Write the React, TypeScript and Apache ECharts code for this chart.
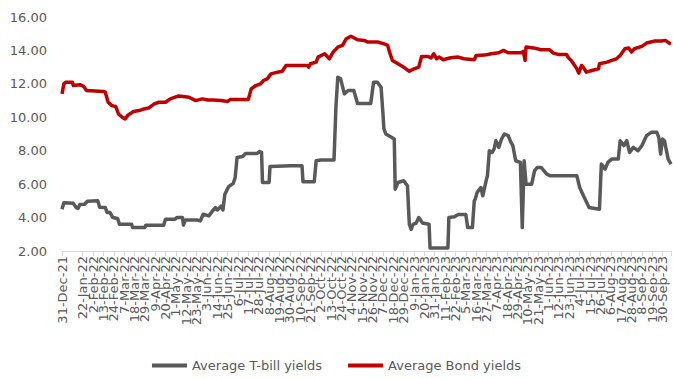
import React, { useEffect, useRef } from "react";
import * as echarts from "echarts";

// Day offsets are counted from 31-Dec-21; each pair is [day, yield %].
const START_UTC = Date.UTC(2021, 11, 31);
const MONTHS = ["Jan", "Feb", "Mar", "Apr", "May", "Jun", "Jul", "Aug", "Sep", "Oct", "Nov", "Dec"];

const tbillYields: [number, number][] = [
  [0, 4.5], [2, 4.88], [12, 4.85], [15, 4.6], [17, 4.55], [19, 4.78], [24, 4.8], [27, 4.98],
  [38, 5.0], [40, 4.62], [46, 4.6], [48, 4.3], [51, 4.3], [54, 4.0], [59, 3.95], [61, 3.6],
  [74, 3.6], [75, 3.4], [88, 3.4], [89, 3.54], [108, 3.54], [110, 3.9], [120, 3.9], [122, 4.0],
  [128, 4.0], [129, 3.55], [131, 3.85], [144, 3.85], [147, 3.8], [150, 4.2], [156, 4.1],
  [160, 4.4], [163, 4.6], [165, 4.45], [169, 4.68], [171, 4.45], [173, 5.4], [177, 5.85],
  [182, 6.05], [184, 6.4], [186, 7.6], [192, 7.65], [195, 7.83], [207, 7.83], [210, 7.95],
  [212, 7.9], [213, 6.1], [220, 6.1], [221, 7.05], [243, 7.1], [255, 7.1], [256, 6.15],
  [268, 6.15], [270, 7.4], [275, 7.45], [289, 7.45], [291, 10.6], [293, 12.4], [296, 12.3],
  [300, 11.4], [304, 11.6], [310, 11.6], [314, 10.83], [328, 10.83], [331, 12.1], [335, 12.1],
  [339, 11.8], [341, 10.2], [342, 9.3], [344, 9.0], [350, 8.8], [353, 8.7], [354, 5.7],
  [357, 6.1], [363, 6.2], [367, 5.9], [369, 3.6], [371, 3.3], [373, 3.6], [376, 3.65],
  [379, 4.0], [383, 3.68], [390, 3.6], [391, 2.18], [410, 2.18], [411, 4.0], [417, 4.05],
  [421, 4.18], [429, 4.18], [431, 3.4], [436, 3.4], [438, 5.0], [439, 5.1], [441, 5.5],
  [445, 5.8], [447, 5.3], [451, 6.3], [452, 6.5], [454, 8.0], [457, 7.9], [459, 8.1],
  [461, 8.6], [464, 8.2], [467, 8.7], [470, 9.0], [474, 8.9], [477, 8.5], [479, 8.3],
  [482, 7.4], [487, 7.3], [489, 3.4], [491, 7.4], [493, 6.0], [499, 6.0], [502, 6.8],
  [505, 7.0], [509, 7.0], [515, 6.6], [519, 6.5], [547, 6.5], [550, 5.8], [554, 5.3],
  [560, 4.6], [571, 4.5], [573, 7.2], [577, 6.9], [580, 7.3], [584, 7.5], [591, 7.5],
  [593, 8.6], [597, 8.3], [600, 8.6], [603, 7.9], [607, 8.2], [612, 8.0], [616, 8.3],
  [621, 8.9], [626, 9.1], [632, 9.1], [634, 8.8], [636, 7.8], [638, 8.7], [640, 8.6],
  [644, 7.5], [647, 7.2],
];

const bondYields: [number, number][] = [
  [0, 11.4], [2, 12.0], [4, 12.1], [11, 12.1], [12, 11.9], [19, 11.95], [23, 11.85],
  [26, 11.6], [44, 11.55], [46, 11.5], [49, 10.9], [53, 10.7], [57, 10.65], [60, 10.2],
  [64, 10.0], [67, 9.9], [70, 10.13], [76, 10.35], [82, 10.4], [87, 10.5], [92, 10.55],
  [98, 10.8], [103, 10.9], [110, 10.9], [115, 11.1], [124, 11.28], [135, 11.2], [142, 11.0],
  [149, 11.1], [155, 11.03], [161, 11.03], [169, 11.0], [176, 10.95], [179, 11.07],
  [198, 11.07], [201, 11.7], [206, 11.9], [211, 12.0], [214, 12.2], [218, 12.3], [222, 12.6],
  [229, 12.7], [234, 12.75], [238, 13.1], [261, 13.1], [262, 13.0], [264, 13.2], [270, 13.3],
  [272, 13.6], [279, 13.8], [284, 13.5], [288, 13.9], [293, 14.2], [298, 14.3], [302, 14.7],
  [307, 14.85], [314, 14.64], [321, 14.6], [325, 14.5], [336, 14.5], [339, 14.44],
  [342, 14.4], [346, 14.3], [348, 13.9], [351, 13.4], [357, 13.2], [364, 12.96], [369, 12.75],
  [374, 12.9], [379, 13.0], [382, 13.64], [389, 13.64], [392, 13.55], [395, 13.8],
  [398, 13.5], [401, 13.6], [405, 13.44], [413, 13.56], [421, 13.6], [427, 13.5],
  [438, 13.44], [440, 13.7], [449, 13.72], [456, 13.8], [464, 13.86], [469, 14.0],
  [474, 13.86], [488, 13.86], [490, 13.95], [492, 13.4], [493, 14.2], [501, 14.15],
  [509, 14.04], [518, 14.04], [522, 13.84], [527, 13.76], [536, 13.76], [538, 13.56],
  [541, 13.4], [547, 12.9], [549, 12.64], [552, 13.1], [555, 12.9], [557, 12.7], [563, 12.8],
  [570, 12.9], [571, 13.2], [579, 13.3], [584, 13.4], [589, 13.5], [593, 13.7], [598, 14.1],
  [602, 14.15], [605, 13.9], [608, 14.1], [616, 14.24], [621, 14.44], [630, 14.56],
  [637, 14.56], [641, 14.6], [645, 14.44], [647, 14.4],
];

const LAST_DAY = 647;
const TICK_DAYS = 11;

function dayLabel(day: number): string {
  // Only the 11-day ticks carry a date; the axis end stays unlabelled.
  if (day % TICK_DAYS !== 0) return "";
  const d = new Date(START_UTC + day * 86400000);
  const yy = String(d.getUTCFullYear() % 100).padStart(2, "0");
  return `${d.getUTCDate()}-${MONTHS[d.getUTCMonth()]}-${yy}`;
}

export default function App() {
  const ref = useRef<HTMLDivElement>(null);

  useEffect(() => {
    if (!ref.current) return;
    const chart = echarts.init(ref.current, null, { renderer: "svg" });
    const font = "DejaVu Sans, sans-serif";
    chart.setOption({
      animation: false,
      backgroundColor: "#ffffff",
      textStyle: { fontFamily: font },
      grid: { left: 62, right: 2, top: 17, bottom: 128 },
      legend: {
        bottom: 2,
        left: "center",
        icon: "rect",
        itemWidth: 35,
        itemHeight: 4,
        itemGap: 26,
        textStyle: { color: "#595959", fontSize: 13, fontFamily: font },
        data: ["Average T-bill yields", "Average Bond yields"],
      },
      xAxis: {
        type: "value",
        min: 0,
        max: LAST_DAY,
        interval: TICK_DAYS,
        splitLine: { show: false },
        axisLine: { show: true, lineStyle: { color: "#d9d9d9", width: 1 } },
        axisTick: { show: true, length: 5, lineStyle: { color: "#d9d9d9" } },
        axisLabel: {
          rotate: 90,
          margin: 5,
          fontSize: 13,
          color: "#595959",
          fontFamily: font,
          showMinLabel: true,
          formatter: (v: number) => dayLabel(v),
        },
      },
      yAxis: {
        type: "value",
        min: 2,
        max: 16,
        interval: 2,
        splitLine: { show: false },
        axisLine: { show: false },
        axisTick: { show: false },
        axisLabel: {
          margin: 15,
          fontSize: 13,
          color: "#595959",
          fontFamily: font,
          formatter: (v: number) => v.toFixed(2),
        },
      },
      series: [
        {
          name: "Average T-bill yields",
          type: "line",
          data: tbillYields,
          showSymbol: false,
          symbol: "none",
          color: "#595959",
          lineStyle: { color: "#595959", width: 3.5, join: "round" },
        },
        {
          name: "Average Bond yields",
          type: "line",
          data: bondYields,
          showSymbol: false,
          symbol: "none",
          color: "#c00000",
          lineStyle: { color: "#c00000", width: 3.5, join: "round" },
        },
      ],
    });
    return () => chart.dispose();
  }, []);

  return (
    <div
      ref={ref}
      style={{ position: "absolute", left: 0, top: 0, width: 673, height: 379 }}
    />
  );
}
